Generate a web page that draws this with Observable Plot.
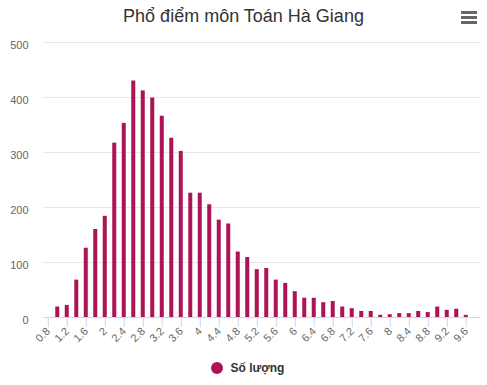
<!DOCTYPE html>
<html>
<head>
<meta charset="utf-8">
<script src="https://cdn.jsdelivr.net/npm/d3@7"></script>
<script src="https://cdn.jsdelivr.net/npm/@observablehq/plot@0.6"></script>
<style>
  body { margin: 0; background: #fff; font-family: "Liberation Sans", Arial, sans-serif; }
  #wrap { position: relative; width: 487px; height: 385px; overflow: hidden; }
  #title { height: 32px; box-sizing: border-box; padding-top: 6px; text-align: center; font-size: 18px; line-height: 20px; color: #333; }
  #menu { position: absolute; left: 461px; top: 11px; width: 16px; height: 14px; }
  #menu div { height: 3px; background: #666; margin-bottom: 2px; }
  #legend { height: 26px; line-height: 26px; font-size: 12px; font-weight: bold; color: #333; display: flex; justify-content: center; align-items: center; padding-left: 8px; }
  #legend .dot { width: 12px; height: 12px; border-radius: 50%; display: inline-block; margin-right: 8px; }
</style>
</head>
<body>
<div id="wrap">
  <div id="title">Phổ điểm môn Toán Hà Giang</div>
  <div id="menu"><div></div><div></div><div></div></div>
  <div id="chart"></div>
  <div id="legend"></div>
</div>
<script>
const seriesName = "Số lượng";
const barColor = "#ad1457";
const categories = ["0.8","1","1.2","1.4","1.6","1.8","2","2.2","2.4","2.6","2.8","3","3.2","3.4","3.6","3.8","4","4.2","4.4","4.6","4.8","5","5.2","5.4","5.6","5.8","6","6.2","6.4","6.6","6.8","7","7.2","7.4","7.6","7.8","8","8.2","8.4","8.6","8.8","9","9.2","9.4","9.6","9.8"];
const counts = [0,19,22,68,126,160,184,317,353,430,412,399,366,326,302,226,226,205,177,170,119,109,87,89,68,62,47,35,35,27,29,19,16,11,11,4,5,7,7,11,9,19,13,15,4,0];
const xTickLabels = ["0.8","1.2","1.6","2","2.4","2.8","3.2","3.6","4","4.4","4.8","5.2","5.6","6","6.4","6.8","7.2","7.6","8","8.4","8.8","9.2","9.6"];
const yTicks = [0,100,200,300,400,500];

const data = categories.map((c, i) => ({cat: c, value: counts[i]}));

const chart = Plot.plot({
  width: 487,
  height: 323,
  marginTop: 10,
  marginBottom: 38,
  marginLeft: 43,
  marginRight: 7,
  style: {fontFamily: '"Liberation Sans", Arial, sans-serif', fontSize: "11px", color: "#666", background: "transparent"},
  x: {type: "band", domain: categories, paddingInner: 0.577, paddingOuter: 0.29, align: 0.5, round: false},
  y: {domain: [0, 500]},
  marks: [
    Plot.gridY(yTicks, {stroke: "#e6e6e6", strokeOpacity: 1}),
    Plot.barY(data, {x: "cat", y: "value", fill: barColor}),
    Plot.ruleY([0], {stroke: "#ccd6eb", strokeWidth: 1}),
    Plot.axisY({ticks: yTicks, tickSize: 0, tickPadding: 15, label: null, fill: "#666", dy: 3}),
    Plot.axisX({ticks: xTickLabels, tickSize: 10, tickPadding: 2, tickRotate: -45, label: null, stroke: "#ccd6eb", fill: "#666"})
  ]
});
document.getElementById("chart").appendChild(chart);

const legend = document.getElementById("legend");
const dot = document.createElement("span");
dot.className = "dot";
dot.style.background = barColor;
legend.appendChild(dot);
legend.appendChild(document.createTextNode(seriesName));
</script>
</body>
</html>
